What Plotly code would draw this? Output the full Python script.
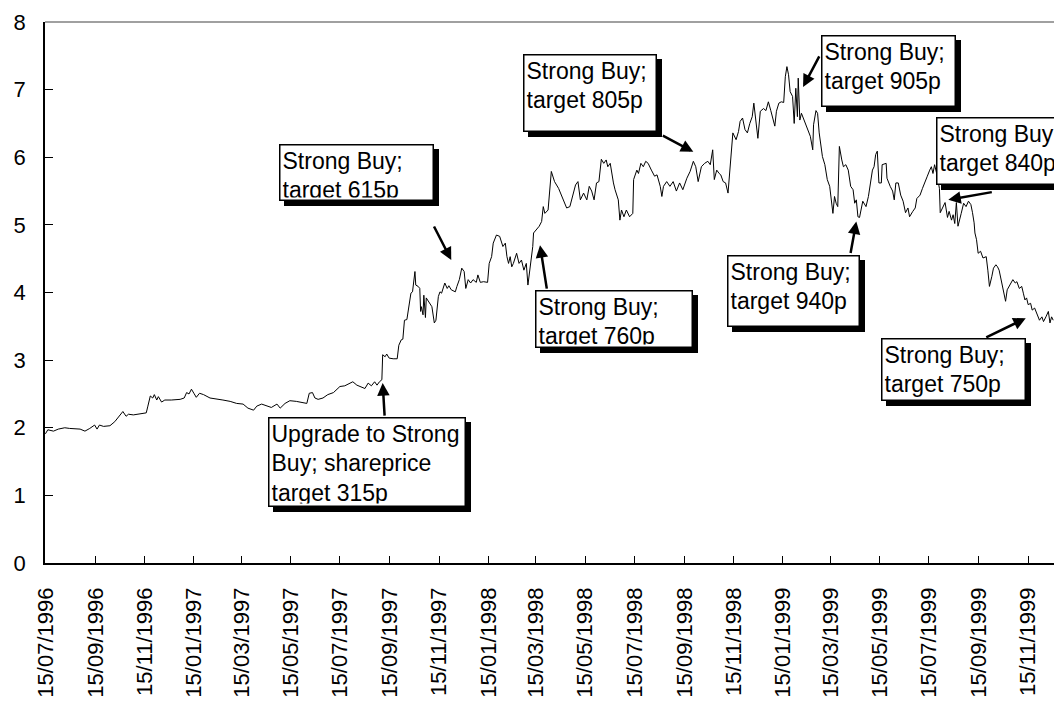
import pandas as pd
import plotly.graph_objects as go

FONT = "Liberation Sans, Arial, sans-serif"
START = pd.Timestamp("1996-07-15")

# Days elapsed since 15/07/1996 for each observation
day_offsets = [
    0, 3, 10, 16, 24, 30, 43, 49, 55, 61,
    64, 67, 72, 80, 86, 92, 96, 100, 103, 109,
    117, 125, 127, 130, 133, 135, 138, 140, 144, 148,
    156, 167, 172, 175, 178, 181, 184, 187, 191, 196,
    204, 212, 220, 229, 237, 245, 251, 258, 262, 268,
    274, 280, 287, 291, 297, 303, 311, 320, 324, 327,
    331, 334, 338, 344, 350, 357, 365, 371, 377, 381,
    386,
    390, 396, 400, 404, 408, 411, 414, 417, 418, 421,
    423, 426, 431, 436, 438, 441, 443, 445, 448, 451,
    453, 455, 457, 458, 459, 462, 464, 465, 466, 468,
    469, 471, 472, 476, 479, 482, 484, 487, 489, 491,
    493, 495, 498, 500, 503, 508, 510, 513, 516, 519,
    521, 524, 527, 530, 534, 536, 539, 543, 548, 550,
    553, 555,
    559, 563, 567, 570, 572, 574, 576, 578, 580, 584,
    587, 590, 593, 596, 598, 601, 604, 605, 609, 612,
    615, 617, 619, 623, 627, 631, 636, 640, 646, 650,
    654, 657, 660, 663, 667, 671, 674, 677, 680, 683,
    686, 689, 692, 695, 697, 700, 704, 706, 710, 712,
    714, 717, 720, 724, 728, 729, 733, 735, 738, 741,
    744, 747, 751, 755, 758, 762, 764, 766, 770, 774,
    778, 782, 786, 790, 795, 799, 803, 806, 809,
    813, 817, 821, 824, 827, 829, 832, 835, 837, 840,
    843, 846, 848, 850, 852, 856, 859, 861, 864, 867,
    870, 873, 876, 878, 881, 883, 886, 890, 893, 896,
    899, 901, 904, 906, 909, 912, 915, 917, 919, 921,
    923, 926, 928, 930, 932, 933, 935, 937, 940, 943,
    945, 948, 951, 952, 955, 957, 959, 961, 963, 966,
    969, 972, 974, 976, 978, 980, 982, 984, 987, 989,
    992, 995, 998, 1001, 1003, 1005, 1007,
    1009, 1013, 1017, 1020, 1023, 1025, 1027, 1029, 1031, 1032,
    1033, 1036, 1037, 1042, 1043, 1047, 1050, 1052, 1054, 1057,
    1060, 1063, 1066, 1069, 1071, 1075, 1078, 1080, 1084, 1087,
    1090, 1093, 1096, 1098, 1100, 1102, 1105, 1108, 1109, 1112,
    1115, 1118, 1120, 1123, 1125, 1127, 1129, 1131, 1133, 1135,
    1138, 1141, 1144, 1147, 1149, 1151, 1152, 1154, 1156, 1159,
    1162, 1166, 1168, 1170, 1173, 1175, 1178, 1180, 1182, 1185,
    1188, 1190, 1192, 1195, 1199, 1202, 1204, 1207, 1210, 1212,
    1214, 1216, 1218, 1221, 1223, 1226, 1229, 1232, 1235, 1237,
    1240, 1243, 1245, 1247, 1249,
]

# Share price (GBP) on those days
share_price = [
    1.91, 1.97, 1.95, 1.98, 2.00, 1.99, 1.98, 1.95, 1.99, 2.04,
    1.98, 2.04, 2.02, 2.03, 2.09, 2.19, 2.24, 2.17, 2.20, 2.19,
    2.20, 2.22, 2.32, 2.47, 2.44, 2.49, 2.41, 2.46, 2.38, 2.41,
    2.41, 2.42, 2.44, 2.52, 2.50, 2.57, 2.51, 2.45, 2.51, 2.49,
    2.44, 2.42, 2.41, 2.39, 2.36, 2.35, 2.29, 2.26, 2.32, 2.35,
    2.32, 2.30, 2.35, 2.29, 2.36, 2.40, 2.39, 2.37, 2.36, 2.51,
    2.52, 2.44, 2.42, 2.44, 2.49, 2.52, 2.61, 2.62, 2.66, 2.68,
    2.63,
    2.61, 2.58, 2.66, 2.62, 2.68, 2.63, 2.68, 2.71, 3.08, 3.05,
    3.09, 3.03, 3.02, 3.02, 3.22, 3.30, 3.31, 3.59, 3.60, 3.82,
    3.99, 4.01, 4.29, 4.31, 4.11, 4.09, 4.06, 3.72, 3.79, 3.67,
    3.96, 3.63, 3.92, 3.84, 3.79, 3.55, 3.59, 3.94, 4.01, 3.99,
    4.06, 4.14, 4.06, 4.10, 4.04, 4.01, 4.09, 4.19, 4.36, 4.31,
    4.06, 4.19, 4.14, 4.19, 4.15, 4.26, 4.15, 4.16, 4.15, 4.43,
    4.53, 4.73,
    4.85, 4.83, 4.68, 4.73, 4.53, 4.43, 4.53, 4.38, 4.43, 4.58,
    4.43, 4.48, 4.33, 4.43, 4.11, 4.38, 4.68, 4.88, 4.93, 4.98,
    5.05, 5.27, 5.17, 5.22, 5.79, 5.64, 5.54, 5.42, 5.25, 5.27,
    5.47, 5.59, 5.64, 5.37, 5.47, 5.37, 5.57, 5.50, 5.37, 5.62,
    5.64, 5.97, 5.91, 5.96, 5.86, 5.91, 5.62, 5.52, 5.37, 5.07,
    5.22, 5.12, 5.22, 5.12, 5.17, 5.67, 5.81, 5.76, 5.91, 5.86,
    5.94, 5.91, 5.81, 5.72, 5.74, 5.57, 5.42, 5.57, 5.64, 5.57,
    5.64, 5.50, 5.62, 5.52, 5.69, 5.79, 5.94, 5.86, 5.64,
    5.86, 5.91, 5.94, 5.89, 6.11, 5.67, 5.81, 5.76, 5.74, 5.64,
    5.62, 5.47, 5.81, 6.16, 6.36, 6.26, 6.38, 6.53, 6.58, 6.41,
    6.36, 6.50, 6.60, 6.80, 6.53, 6.28, 6.68, 6.72, 6.69, 6.82,
    6.69, 6.60, 6.46, 6.68, 6.80, 6.82, 6.81, 7.19, 7.34, 7.22,
    6.97, 6.90, 6.50, 7.02, 6.60, 7.17, 6.55, 6.65, 6.55, 6.46,
    6.38, 6.31, 6.11, 6.48, 6.69, 6.65, 6.36, 6.16, 6.01, 5.89,
    5.67, 5.57, 5.37, 5.17, 5.42, 5.32, 5.27, 6.16, 5.96, 5.86,
    5.89, 5.81, 5.57, 5.52, 5.32, 5.37, 5.12,
    5.11, 5.35, 5.27, 5.42, 5.62, 5.81, 5.86, 6.04, 6.09, 5.91,
    5.62, 5.62, 5.89, 5.91, 5.69, 5.57, 5.50, 5.37, 5.62, 5.62,
    5.44, 5.35, 5.18, 5.25, 5.12, 5.20, 5.25, 5.39, 5.44, 5.54,
    5.62, 5.72, 5.81, 5.86, 5.76, 5.89, 5.74, 5.54, 5.18, 5.25,
    5.33, 5.11, 5.20, 5.07, 5.15, 5.02, 5.33, 4.98, 5.10, 5.17,
    5.32, 5.27, 5.35, 5.30, 5.18, 5.03, 4.88, 4.78, 4.58, 4.61,
    4.51, 4.53, 4.33, 4.09, 4.24, 4.36, 4.41, 4.38, 4.33, 4.14,
    3.99, 3.87, 4.04, 4.11, 4.19, 4.14, 4.16, 4.06, 4.09, 3.99,
    3.89, 3.92, 3.82, 3.84, 3.74, 3.77, 3.67, 3.59, 3.64, 3.57,
    3.64, 3.72, 3.55, 3.64, 3.59,
]

tick_dates = [
    "1996-07-15", "1996-09-15", "1996-11-15", "1997-01-15", "1997-03-15",
    "1997-05-15", "1997-07-15", "1997-09-15", "1997-11-15", "1998-01-15",
    "1998-03-15", "1998-05-15", "1998-07-15", "1998-09-15", "1998-11-15",
    "1999-01-15", "1999-03-15", "1999-05-15", "1999-07-15", "1999-09-15",
    "1999-11-15",
]
tick_labels = [
    "15/07/1996", "15/09/1996", "15/11/1996", "15/01/1997", "15/03/1997",
    "15/05/1997", "15/07/1997", "15/09/1997", "15/11/1997", "15/01/1998",
    "15/03/1998", "15/05/1998", "15/07/1998", "15/09/1998", "15/11/1998",
    "15/01/1999", "15/03/1999", "15/05/1999", "15/07/1999", "15/09/1999",
    "15/11/1999",
]

# Broker recommendations: label text and the (date, price) each arrow points at
note_texts = [
    "Upgrade to Strong<br>Buy; shareprice<br>target 315p",
    "Strong Buy;<br>target 615p",
    "Strong Buy;<br>target 760p",
    "Strong Buy;<br>target 805p",
    "Strong Buy;<br>target 905p",
    "Strong Buy;<br>target 940p",
    "Strong Buy;<br>target 840p",
    "Strong Buy;<br>target 750p",
]
note_dates = ["1997-09-06", "1997-11-30", "1998-03-20", "1998-09-26",
              "1999-02-09", "1999-04-16", "1999-08-08", "1999-11-12"]
note_prices = [2.66, 4.48, 4.70, 6.08, 7.04, 5.05, 5.37, 3.62]

# Layout of the callouts (pixels): box left, top, width, height; arrow tail offset
box_geom = [
    (268, 417, 198, 90), (279, 144, 155, 57), (535, 290, 158, 58),
    (523, 54, 134, 78), (821, 35, 135, 72), (727, 255, 133, 72),
    (936, 117, 140, 68), (881, 338, 145, 63),
]
arrow_tail = [(2, 34), (-18, -35), (7, 45), (-32, -17),
              (17, -32), (-6, 33), (45, -8), (-41, 20)]

W, H = 1054, 702
ML, MR, MT, MB = 45, 0, 22, 139
PW, PH = W - ML - MR, H - MT - MB

def paper_x(px):
    return (px - ML) / PW

def paper_y(py):
    return (MT + PH - py) / PH

dates = START + pd.to_timedelta(day_offsets, unit="D")

fig = go.Figure()
fig.add_trace(go.Scatter(
    x=dates, y=share_price, mode="lines",
    line=dict(color="black", width=1),
    showlegend=False, hoverinfo="skip",
))

annotations = []
BW, BP = 1.5, 2
pad = 2 * (BW + BP)
for text, (left, top, bw, bh) in zip(note_texts, box_geom):
    common = dict(
        xref="paper", yref="paper", x=paper_x(left), y=paper_y(top),
        xanchor="left", yanchor="top", text=text, showarrow=False,
        align="left", valign="top", width=bw - pad, height=bh - pad,
        borderwidth=BW, borderpad=BP,
    )
    # drop shadow
    annotations.append(dict(common, bgcolor="black", bordercolor="black",
                            font=dict(family=FONT, size=23, color="black"),
                            xshift=5, yshift=-5))
    annotations.append(dict(common, bgcolor="white", bordercolor="black",
                            font=dict(family=FONT, size=23, color="black")))

for d, p, (ax, ay) in zip(note_dates, note_prices, arrow_tail):
    annotations.append(dict(
        x=d, y=p, xref="x", yref="y", text="", showarrow=True,
        ax=ax, ay=ay, arrowhead=2, arrowsize=1, arrowwidth=2.5,
        arrowcolor="black", standoff=0,
    ))

fig.update_layout(
    width=W, height=H,
    margin=dict(l=ML, r=MR, t=MT, b=MB, pad=0),
    paper_bgcolor="white", plot_bgcolor="white",
    font=dict(family=FONT, color="black"),
    annotations=annotations,
    shapes=[dict(type="line", xref="paper", yref="paper", x0=0, x1=1, y0=1, y1=1,
                 line=dict(color="#808080", width=1.5))],
    xaxis=dict(
        type="date", range=["1996-07-14 12:00", "1999-12-17"],
        tickvals=tick_dates, ticktext=tick_labels, tickangle=-90,
        ticks="inside", ticklen=7, tickwidth=1, tickcolor="black",
        showline=True, linecolor="black", linewidth=1.5,
        showgrid=False, zeroline=False, automargin=False,
        tickfont=dict(family=FONT, size=22, color="black"),
        ticklabelstandoff=14,
    ),
    yaxis=dict(
        range=[0, 8], tickvals=list(range(0, 9)),
        ticks="inside", ticklen=8, tickwidth=1, tickcolor="black",
        showline=True, linecolor="black", linewidth=1.5,
        showgrid=False, zeroline=False, automargin=False,
        tickfont=dict(family=FONT, size=22, color="black"),
        ticklabelstandoff=13,
    ),
)

fig.write_html("out.html")
